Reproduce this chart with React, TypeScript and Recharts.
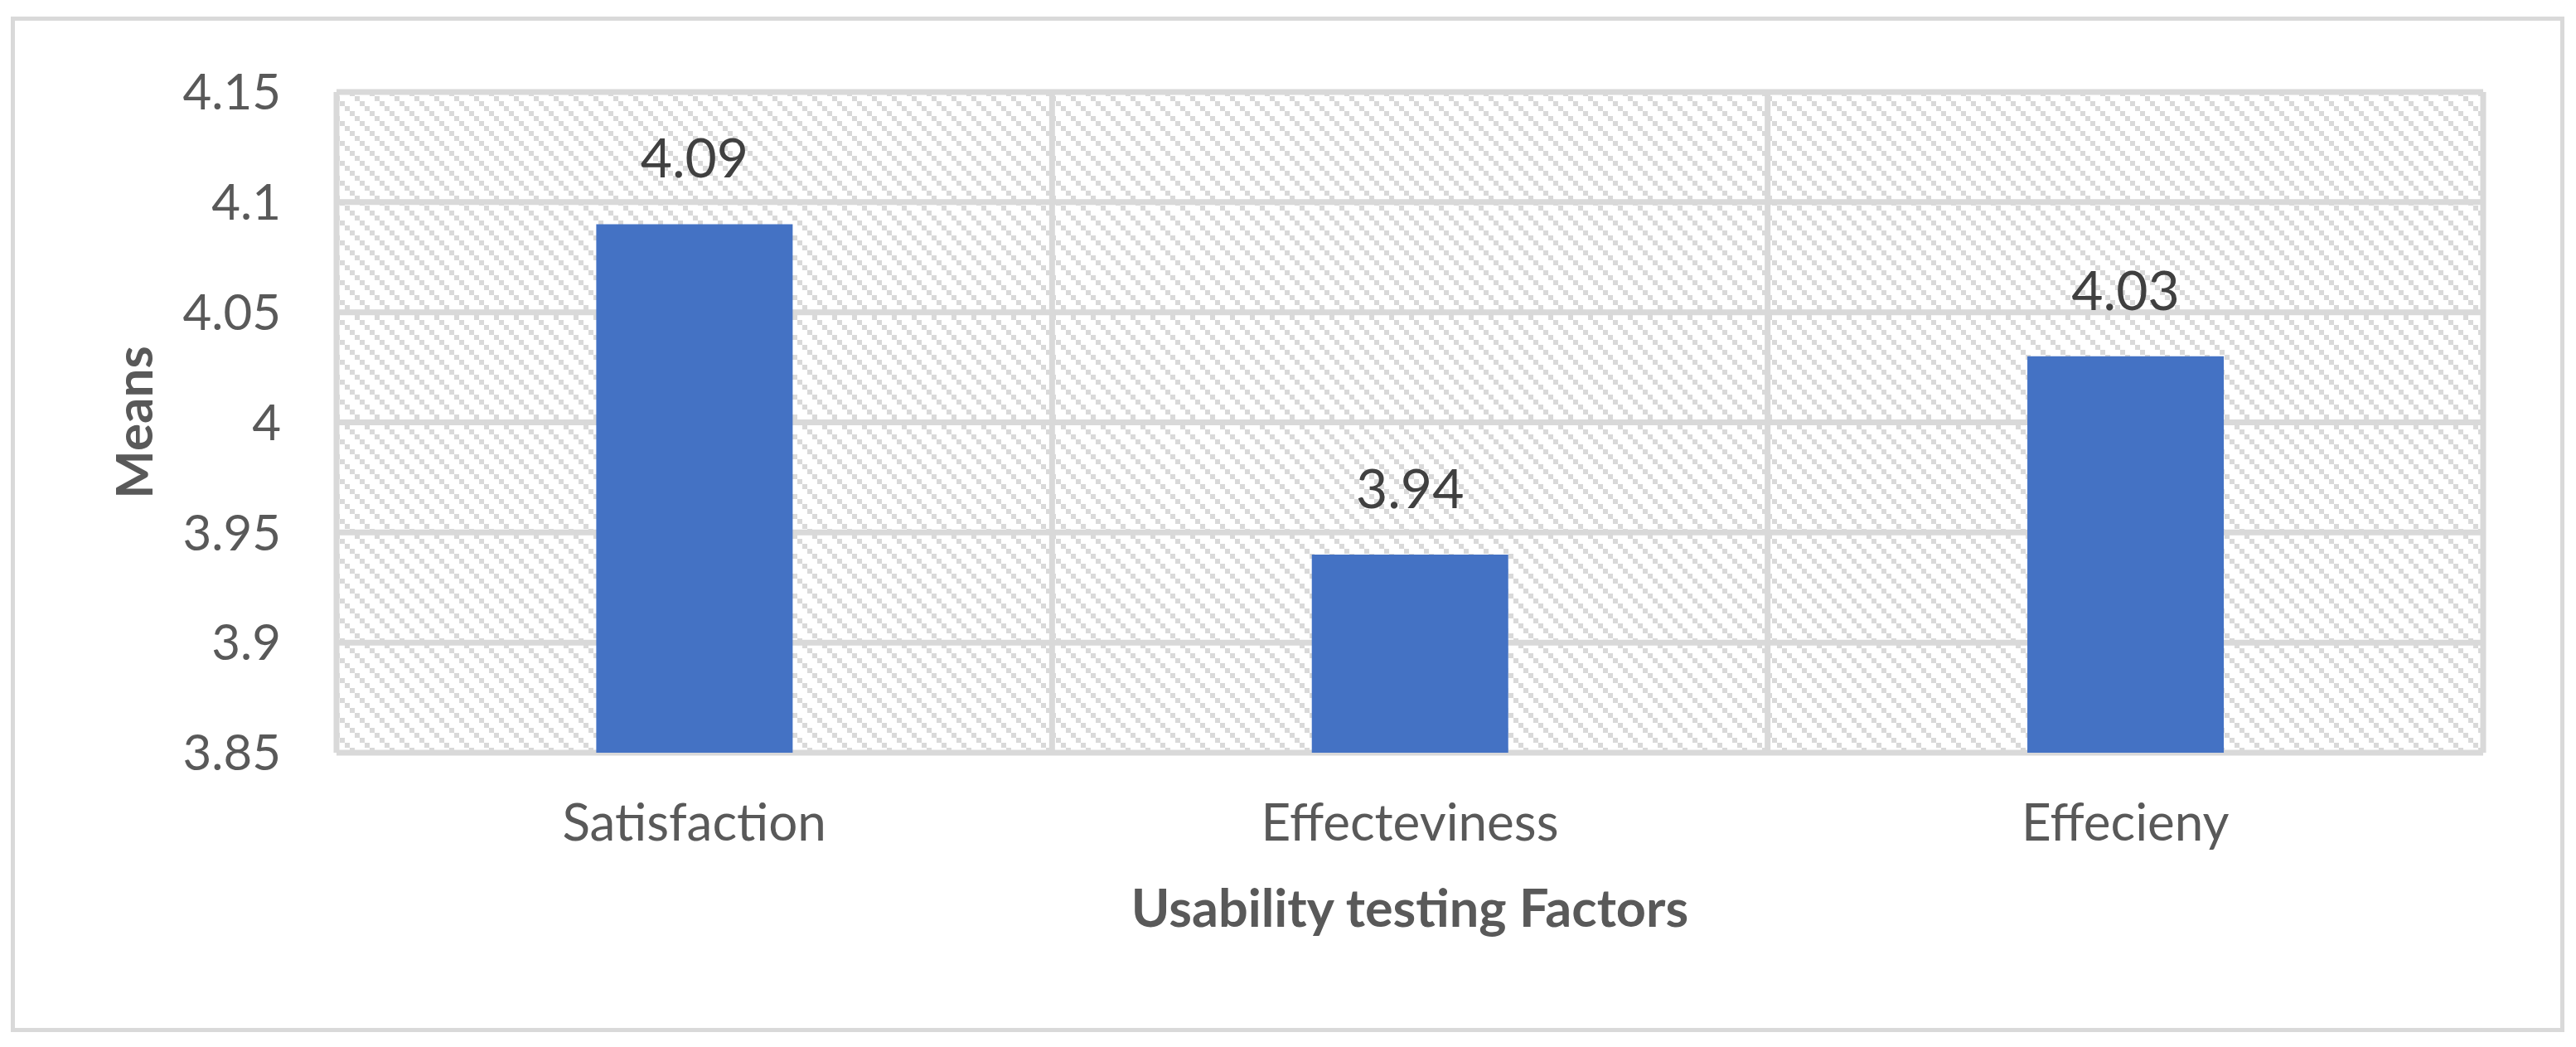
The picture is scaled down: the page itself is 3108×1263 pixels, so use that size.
import React from 'react';
import { BarChart, Bar, XAxis, YAxis, CartesianGrid, LabelList } from 'recharts';

const categories: string[] = ['Satisfaction', 'Effecteviness', 'Effecieny'];
const means: number[] = [4.09, 3.94, 4.03];
const yTicks: number[] = [3.85, 3.9, 3.95, 4, 4.05, 4.1, 4.15];
const xTitle = 'Usability testing Factors';
const yTitle = 'Means';

const data = categories.map((name, i) => ({ name, value: means[i] }));

const FONT = 'Lato, "Open Sans", sans-serif';
const GRID = '#d9d9d9';

const YTitle = (props: any) => {
  const vb = props.viewBox || { x: 0, y: 103, width: 398, height: 797 };
  const cx = vb.x + 176;
  const cy = vb.y + vb.height / 2;
  return (
    <text
      x={cx}
      y={cy}
      transform={`rotate(-90 ${cx} ${cy})`}
      textAnchor="middle"
      fill="#595959"
      fontFamily={FONT}
      fontWeight={700}
      fontSize={62}
    >
      {yTitle}
    </text>
  );
};

export default function App() {
  const W = 3092;
  const H = 1247;
  return (
    <div style={{ position: 'relative', width: W, height: H, background: '#fff' }}>
      <div
        style={{
          position: 'absolute',
          left: 5,
          top: 12,
          width: 3081,
          height: 1225,
          border: `5px solid ${GRID}`,
          boxSizing: 'border-box',
          pointerEvents: 'none',
        }}
      />
      <BarChart
        width={W}
        height={H}
        data={data}
        margin={{ top: 103, right: 104, bottom: 137, left: 0 }}
        barCategoryGap="36.3%"
        style={{ position: 'absolute', left: 0, top: 0 }}
      >
        <defs>
          <pattern id="hatch" width={24} height={24} patternUnits="userSpaceOnUse">
            <rect x={0} y={0} width={24} height={24} fill="#ffffff" />
            <rect x={0} y={0} width={6} height={6} fill={GRID} />
            <rect x={6} y={6} width={6} height={6} fill={GRID} />
            <rect x={12} y={12} width={6} height={6} fill={GRID} />
            <rect x={18} y={18} width={6} height={6} fill={GRID} />
          </pattern>
        </defs>
        <CartesianGrid
          fill="url(#hatch)"
          fillOpacity={1}
          stroke={GRID}
          strokeWidth={7}
          verticalCoordinatesGenerator={({ offset }: any) =>
            Array.from({ length: categories.length + 1 }, (_, i) => offset.left + (offset.width * i) / categories.length)
          }
        />
        <XAxis
          dataKey="name"
          axisLine={false}
          tickLine={false}
          tickSize={0}
          tickMargin={62}
          height={210}
          tick={{ fill: '#595959', fontSize: 62, fontFamily: FONT }}
          label={{
            value: xTitle,
            position: 'insideBottom',
            offset: 0,
            fill: '#595959',
            fontSize: 63,
            fontWeight: 700,
            fontFamily: FONT,
          }}
        />
        <YAxis
          domain={[3.85, 4.15]}
          ticks={yTicks}
          type="number"
          allowDataOverflow
          axisLine={false}
          tickLine={false}
          tickSize={0}
          tickMargin={67}
          width={398}
          tick={{ fill: '#595959', fontSize: 60, fontFamily: FONT }}
          label={{ content: YTitle }}
        />
        <Bar dataKey="value" fill="#4472c4" isAnimationActive={false}>
          <LabelList
            dataKey="value"
            position="top"
            offset={56}
            fill="#404040"
            fontSize={66}
            fontFamily={FONT}
          />
        </Bar>
      </BarChart>
    </div>
  );
}
